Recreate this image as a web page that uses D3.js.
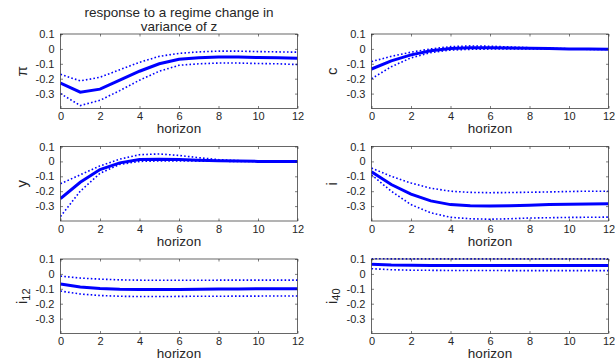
<!DOCTYPE html>
<html>
<head>
<meta charset="utf-8">
<script src="https://cdn.jsdelivr.net/npm/d3@7"></script>
<style>
  body { margin: 0; background: #fff; }
  svg { display: block; font-family: "Liberation Sans", Arial, sans-serif; }
</style>
</head>
<body>
<svg width="615" height="358"></svg>
<script>
// horizons 0..12
const horizon = d3.range(0, 13);
const xTicks = [0, 2, 4, 6, 8, 10, 12];
const yTicks = [0.1, 0, -0.1, -0.2, -0.3];
const yTickLabels = ["0.1", "0", "-0.1", "-0.2", "-0.3"];

// impulse responses: median and bands
const piMid = [-0.23, -0.29, -0.27, -0.21, -0.15, -0.10, -0.07, -0.06, -0.055, -0.055, -0.058, -0.06, -0.062];
const piHi  = [-0.17, -0.215, -0.19, -0.14, -0.09, -0.05, -0.03, -0.02, -0.015, -0.015, -0.018, -0.02, -0.022];
const piLo  = [-0.30, -0.38, -0.345, -0.28, -0.21, -0.15, -0.11, -0.10, -0.095, -0.095, -0.098, -0.10, -0.105];

const cMid = [-0.135, -0.08, -0.04, -0.012, 0.003, 0.008, 0.008, 0.006, 0.004, 0.002, 0.0, -0.001, -0.002];
const cHi  = [-0.085, -0.05, -0.022, 0.0, 0.015, 0.02, 0.018, 0.013, 0.008, 0.004, 0.001, -0.001, -0.002];
const cLo  = [-0.2, -0.12, -0.06, -0.025, -0.008, -0.003, -0.001, 0.0, 0.0, -0.001, -0.002, -0.003, -0.003];

const yMid = [-0.25, -0.14, -0.055, -0.01, 0.012, 0.015, 0.012, 0.008, 0.004, 0.002, 0.0, 0.0, 0.0];
const yHi  = [-0.15, -0.09, -0.03, 0.015, 0.045, 0.05, 0.04, 0.025, 0.012, 0.005, 0.002, 0.0, 0.0];
const yLo  = [-0.37, -0.2, -0.08, -0.02, 0.0, 0.003, 0.003, 0.002, 0.001, 0.0, -0.001, -0.001, -0.001];

const iMid = [-0.07, -0.155, -0.22, -0.265, -0.29, -0.298, -0.3, -0.298, -0.294, -0.29, -0.288, -0.286, -0.285];
const iHi  = [-0.045, -0.10, -0.145, -0.18, -0.2, -0.208, -0.21, -0.209, -0.207, -0.205, -0.202, -0.2, -0.2];
const iLo  = [-0.09, -0.2, -0.29, -0.345, -0.375, -0.385, -0.388, -0.385, -0.38, -0.378, -0.376, -0.375, -0.374];

const i12Mid = [-0.068, -0.088, -0.098, -0.103, -0.105, -0.105, -0.104, -0.103, -0.102, -0.101, -0.1, -0.1, -0.1];
const i12Hi  = [-0.015, -0.028, -0.035, -0.04, -0.042, -0.043, -0.043, -0.043, -0.042, -0.042, -0.042, -0.042, -0.042];
const i12Lo  = [-0.115, -0.135, -0.145, -0.15, -0.152, -0.152, -0.151, -0.15, -0.15, -0.149, -0.149, -0.148, -0.148];

const i40Mid = [0.065, 0.06, 0.058, 0.057, 0.057, 0.057, 0.057, 0.057, 0.057, 0.057, 0.057, 0.057, 0.057];
const i40Hi  = [0.102, 0.101, 0.101, 0.101, 0.101, 0.101, 0.101, 0.101, 0.101, 0.101, 0.101, 0.101, 0.101];
const i40Lo  = [0.035, 0.028, 0.025, 0.024, 0.023, 0.023, 0.023, 0.022, 0.022, 0.022, 0.022, 0.022, 0.022];

const panels = [
  { label: "π", sub: null, mid: piMid, hi: piHi, lo: piLo, col: 0, row: 0 },
  { label: "c", sub: null, mid: cMid, hi: cHi, lo: cLo, col: 1, row: 0 },
  { label: "y", sub: null, mid: yMid, hi: yHi, lo: yLo, col: 0, row: 1 },
  { label: "i", sub: null, mid: iMid, hi: iHi, lo: iLo, col: 1, row: 1 },
  { label: "i", sub: "12", mid: i12Mid, hi: i12Hi, lo: i12Lo, col: 0, row: 2 },
  { label: "i", sub: "40", mid: i40Mid, hi: i40Hi, lo: i40Lo, col: 1, row: 2 }
];

const colLeft = [60.5, 371.5];
const plotW = 237;
const rowTop = [34, 146.5, 259];
const plotH = 74.5;
const axisColor = "#262626";
const lineColor = "#0000ff";

const svg = d3.select("svg");

panels.forEach((p, k) => {
  const x0 = colLeft[p.col], y0 = rowTop[p.row];
  const x = d3.scaleLinear().domain([0, 12]).range([0, plotW]);
  const y = d3.scaleLinear().domain([-0.4, 0.1]).range([plotH, 0]);
  const g = svg.append("g").attr("transform", `translate(${x0},${y0})`);

  g.append("clipPath").attr("id", "clip" + k)
    .append("rect").attr("x", 0).attr("y", -1.5).attr("width", plotW).attr("height", plotH + 1.5);

  const line = d3.line().x((d, i) => x(horizon[i])).y(d => y(d));
  const lines = g.append("g").attr("clip-path", `url(#clip${k})`);
  [p.hi, p.lo].forEach(s => {
    lines.append("path").attr("d", line(s))
      .attr("fill", "none").attr("stroke", lineColor)
      .attr("stroke-width", 1.6).attr("stroke-dasharray", "1.6,2.2");
  });
  lines.append("path").attr("d", line(p.mid))
    .attr("fill", "none").attr("stroke", lineColor).attr("stroke-width", 3);

  // axes with inward ticks, MATLAB style
  const tickLen = 2.5;
  const xb = g.append("g").attr("transform", `translate(0,${plotH})`)
    .call(d3.axisBottom(x).tickValues(xTicks).tickSizeInner(-tickLen).tickSizeOuter(0).tickPadding(4));
  const xt = g.append("g")
    .call(d3.axisTop(x).tickValues(xTicks).tickSizeInner(-tickLen).tickSizeOuter(0).tickFormat(""));
  const yl = g.append("g")
    .call(d3.axisLeft(y).tickValues(yTicks).tickSizeInner(-tickLen).tickSizeOuter(0).tickPadding(6)
      .tickFormat((d, i) => yTickLabels[i]));
  const yr = g.append("g").attr("transform", `translate(${plotW},0)`)
    .call(d3.axisRight(y).tickValues(yTicks).tickSizeInner(-tickLen).tickSizeOuter(0).tickFormat(""));
  [xb, xt, yl, yr].forEach(a => {
    a.select(".domain").remove();
    a.selectAll("line").attr("stroke", axisColor).attr("stroke-width", 0.6);
    a.selectAll("text").attr("fill", axisColor).style("font-size", "11px")
      .style("font-family", "Liberation Sans, Arial, sans-serif");
  });
  xb.selectAll("text").attr("dy", "0.71em");

  g.append("rect").attr("width", plotW).attr("height", plotH)
    .attr("fill", "none").attr("stroke", axisColor).attr("stroke-width", 0.7);

  g.append("text").attr("x", plotW / 2).attr("y", plotH + 24.5)
    .attr("text-anchor", "middle").attr("fill", axisColor)
    .style("font-size", "13.5px").text("horizon");

  const ylab = g.append("text")
    .attr("transform", `translate(${p.col === 0 ? -34 : -35},${plotH / 2}) rotate(-90)`)
    .attr("text-anchor", "middle").attr("fill", axisColor)
    .style("font-size", "15px");
  ylab.append("tspan").text(p.label);
  if (p.sub) {
    ylab.append("tspan").attr("dy", "0.35em").style("font-size", "11px").text(p.sub);
  }
});

// title over the first panel
const title = svg.append("text").attr("text-anchor", "middle").attr("fill", axisColor)
  .style("font-size", "13.5px");
title.append("tspan").attr("x", colLeft[0] + plotW / 2).attr("y", 17).text("response to a regime change in");
title.append("tspan").attr("x", colLeft[0] + plotW / 2).attr("y", 30.5).text("variance of z");
</script>
</body>
</html>
